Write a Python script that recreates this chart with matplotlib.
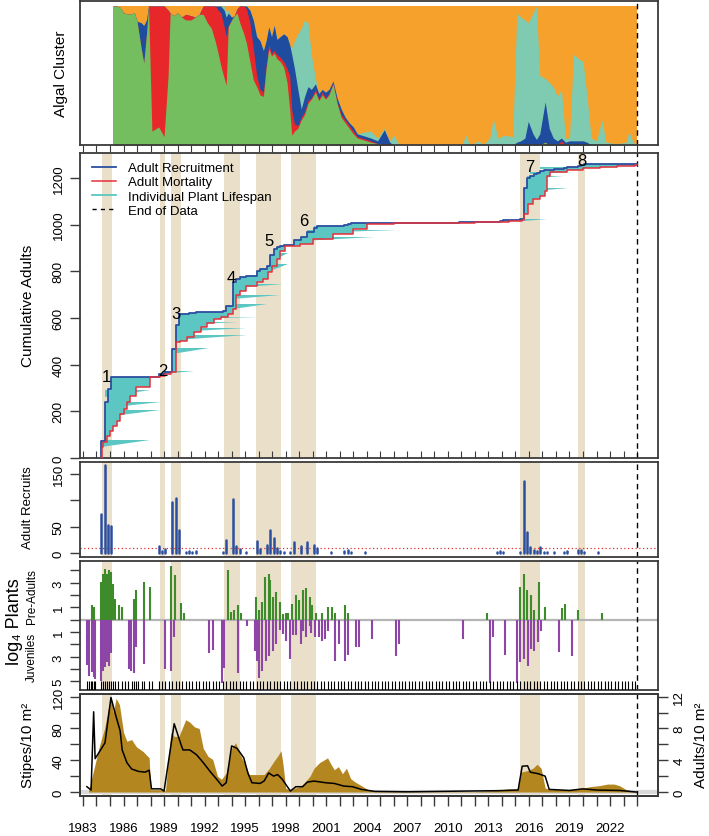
import numpy as np
import matplotlib

matplotlib.use('Agg')
import matplotlib.pyplot as plt
from matplotlib.lines import Line2D

plt.rcParams['font.family'] = ['Liberation Sans', 'DejaVu Sans']

# ---------------- data ----------------
# algal cluster composition, cumulative tops (green, +red, +blue, +teal); orange fills the rest
alg_dates = [1985.25, 1985.5, 1985.75, 1986.0, 1986.4, 1986.8, 1987.0, 1987.3, 1987.5, 1987.7,
             1987.85, 1988.1, 1988.6, 1989.0, 1989.3, 1989.45, 1989.7, 1990.0, 1990.3, 1990.6,
             1991.0, 1991.3, 1991.6, 1991.9, 1992.2, 1992.5, 1992.8, 1993.0, 1993.2, 1993.45,
             1993.6, 1993.75, 1994.0, 1994.2, 1994.4, 1994.6, 1994.9, 1995.1, 1995.35, 1995.6,
             1995.85, 1996.1, 1996.35, 1996.55, 1996.75, 1996.95, 1997.15, 1997.35, 1997.6, 1997.85,
             1998.1, 1998.3, 1998.45, 1998.65, 1998.9, 1999.15, 1999.4, 1999.65, 1999.9, 2000.2,
             2000.45, 2000.7, 2000.95, 2001.2, 2001.5, 2001.8, 2002.1, 2002.4, 2002.7, 2003.0,
             2003.3, 2003.65, 2004.3, 2004.8, 2005.3, 2005.7, 2006.0, 2006.4, 2011.0, 2011.35,
             2011.6, 2012.3, 2012.6, 2013.1, 2013.36, 2013.7, 2014.2, 2014.8, 2015.1, 2015.4,
             2015.7, 2015.95, 2016.3, 2016.55, 2016.8, 2017.2, 2017.5, 2017.8, 2018.1, 2018.4,
             2018.7, 2019.0, 2019.3, 2019.7, 2020.0, 2020.3, 2020.6, 2021.0, 2021.4, 2021.7,
             2022.5, 2023.2, 2023.4, 2023.7, 2024.0]
alg_green = [1.00, 1.00, 0.99, 0.95, 0.94, 0.95, 0.89, 0.70, 0.59, 0.80,
             1.00, 0.10, 0.13, 0.06, 0.50, 0.95, 0.93, 0.95, 0.92, 0.90,
             0.90, 0.92, 0.94, 0.94, 0.88, 0.84, 0.74, 0.66, 0.57, 0.48,
             0.43, 0.85, 0.90, 0.93, 0.95, 0.88, 0.80, 0.73, 0.60, 0.47,
             0.42, 0.36, 0.35, 0.55, 0.69, 0.64, 0.66, 0.62, 0.60, 0.56,
             0.45, 0.25, 0.07, 0.10, 0.12, 0.18, 0.22, 0.30, 0.33, 0.38,
             0.32, 0.36, 0.33, 0.36, 0.44, 0.30, 0.20, 0.16, 0.12, 0.08,
             0.05, 0.04, 0.02, 0.01, 0, 0, 0, 0, 0, 0,
             0, 0, 0, 0, 0, 0, 0, 0, 0, 0,
             0, 0, 0, 0, 0, 0.02, 0, 0, 0, 0,
             0, 0, 0, 0, 0, 0, 0, 0, 0, 0,
             0, 0, 0, 0, 0]
alg_red = [1.00, 1.00, 0.99, 0.95, 0.94, 0.95, 0.89, 0.70, 0.59, 0.80,
           1.00, 1.00, 1.00, 1.00, 0.97, 0.95, 0.93, 0.95, 0.92, 0.94,
           0.93, 0.92, 0.94, 1.00, 1.00, 1.00, 1.00, 0.97, 0.95, 0.85,
           0.78, 0.86, 0.90, 0.93, 0.98, 1.00, 1.00, 0.98, 0.88, 0.70,
           0.50, 0.40, 0.38, 0.57, 0.72, 0.66, 0.68, 0.65, 0.63, 0.60,
           0.55, 0.50, 0.25, 0.15, 0.14, 0.20, 0.24, 0.32, 0.34, 0.40,
           0.33, 0.38, 0.34, 0.37, 0.45, 0.31, 0.22, 0.18, 0.14, 0.10,
           0.06, 0.05, 0.03, 0.01, 0.01, 0, 0, 0, 0, 0,
           0, 0, 0, 0, 0, 0, 0, 0, 0, 0,
           0, 0, 0, 0, 0, 0.02, 0, 0, 0, 0.03,
           0, 0, 0, 0, 0, 0, 0, 0, 0, 0,
           0, 0, 0, 0, 0]
alg_blue = [1.00, 1.00, 0.99, 0.95, 0.94, 0.95, 0.89, 0.88, 0.86, 0.90,
            1.00, 1.00, 1.00, 1.00, 0.97, 0.95, 0.93, 0.95, 0.92, 0.94,
            0.93, 0.92, 0.94, 1.00, 1.00, 1.00, 1.00, 1.00, 1.00, 0.97,
            0.92, 0.95, 0.92, 0.93, 0.98, 1.00, 1.00, 1.00, 0.97, 0.90,
            0.78, 0.75, 0.68, 0.75, 0.85, 0.78, 0.86, 0.76, 0.78, 0.80,
            0.78, 0.72, 0.65, 0.55, 0.40, 0.26, 0.35, 0.42, 0.40, 0.44,
            0.37, 0.40, 0.38, 0.40, 0.46, 0.34, 0.26, 0.20, 0.16, 0.13,
            0.08, 0.07, 0.05, 0.03, 0.11, 0.02, 0, 0, 0, 0,
            0, 0, 0, 0, 0, 0, 0, 0, 0.02, 0.03,
            0.05, 0.17, 0.08, 0.04, 0.08, 0.31, 0.12, 0.05, 0.03, 0.05,
            0.02, 0.03, 0.03, 0.03, 0.03, 0.02, 0, 0, 0, 0,
            0, 0, 0, 0, 0]
alg_teal = [1.00, 1.00, 0.99, 0.95, 0.94, 0.95, 0.89, 0.88, 0.86, 0.90,
            1.00, 1.00, 1.00, 1.00, 0.97, 0.95, 0.93, 0.95, 0.92, 0.94,
            0.93, 0.92, 0.94, 1.00, 1.00, 1.00, 1.00, 1.00, 1.00, 1.00,
            0.96, 0.97, 0.92, 0.93, 0.98, 1.00, 1.00, 1.00, 0.97, 0.90,
            0.78, 0.75, 0.68, 0.75, 0.85, 0.78, 0.86, 0.76, 0.78, 0.80,
            0.78, 0.72, 0.70, 0.75, 0.80, 0.84, 0.90, 0.88, 0.65, 0.48,
            0.37, 0.40, 0.38, 0.40, 0.46, 0.34, 0.26, 0.20, 0.16, 0.13,
            0.08, 0.09, 0.10, 0.05, 0.12, 0.03, 0.07, 0, 0, 0.07,
            0, 0.03, 0, 0.05, 0.19, 0.05, 0.07, 0.06, 0.95, 0.92,
            0.90, 0.88, 0.95, 1.00, 0.50, 0.48, 0.45, 0.42, 0.35, 0.40,
            0.05, 0.05, 0.65, 0.62, 0.60, 0.35, 0.05, 0.03, 0.18, 0.02,
            0.01, 0.02, 0.10, 0.02, 0]

# adult recruits per survey
rec_dates = [1984.35, 1984.6, 1984.85, 1985.1, 1988.6, 1988.85, 1989.1, 1989.6, 1989.85, 1990.1,
             1990.6, 1990.85, 1991.1, 1991.35, 1992.1, 1993.35, 1993.6, 1994.1, 1994.35, 1994.6,
             1995.1, 1995.85, 1996.1, 1996.6, 1996.85, 1997.1, 1997.35, 1997.6, 1997.85, 1998.35,
             1998.6, 1999.1, 1999.6, 2000.1, 2000.35, 2001.35, 2002.35, 2002.6, 2002.85, 2003.85,
             2006.85, 2010.85, 2011.85, 2013.6, 2013.85, 2014.1, 2014.6, 2014.85, 2015.35, 2015.6,
             2015.85, 2016.1, 2016.35, 2016.6, 2016.85, 2017.1, 2017.35, 2017.85, 2018.1, 2018.6,
             2018.85, 2019.1, 2019.6, 2019.85, 2020.1, 2020.6, 2021.1, 2021.6]
rec_counts = [74, 167, 54, 51, 13, 3, 8, 97, 105, 44,
              2, 3, 2, 3, 1, 2, 24, 102, 13, 8,
              2, 22, 8, 16, 44, 28, 9, 4, 2, 2,
              21, 14, 20, 16, 9, 2, 4, 5, 2, 2,
              1, 1, 1, 2, 4, 2, 1, 1, 2, 136,
              40, 11, 6, 4, 12, 2, 2, 2, 1, 2,
              4, 1, 5, 5, 2, 1, 2, 1]

# cumulative adult mortality
mort_dates = [1984.32, 1984.4, 1984.5, 1984.75, 1985.0, 1985.24, 1985.54, 1985.74, 1986.03, 1986.23,
              1986.48, 1986.92, 1987.95, 1988.7, 1989.1, 1989.5, 1989.85, 1990.2, 1990.7, 1991.2,
              1991.7, 1992.2, 1992.7, 1993.2, 1993.7, 1994.1, 1994.3, 1994.6, 1995.1, 1995.85,
              1996.35, 1996.7, 1996.97, 1997.34, 1997.58, 1997.95, 1999.06, 2000.05, 2001.5, 2003.0,
              2004.0, 2006.0, 2012.0, 2014.5, 2015.47, 2015.65, 2015.96, 2016.33, 2016.83, 2017.2,
              2017.37, 2017.57, 2018.8, 2020.03, 2021.27, 2022.5, 2023.86]
mort_cum = [0, 45, 67, 96, 117, 138, 160, 189, 210, 239,
            267, 303, 346, 350, 362, 368, 496, 503, 517, 538,
            560, 578, 595, 603, 617, 640, 700, 717, 738, 753,
            767, 796, 824, 853, 889, 910, 917, 939, 960, 981,
            1003, 1008, 1011, 1015, 1020, 1046, 1089, 1110, 1124, 1146,
            1210, 1227, 1236, 1242, 1246, 1250, 1257]

# long-lived plants: recruit date, last date, plant index range
life_start = [1984.35, 1984.6, 1984.6, 1984.6, 1988.85, 1989.6, 1989.85, 1989.85, 1990.1, 1990.1,
              1994.1, 1994.1, 1994.1, 1996.85, 1997.1, 1999.1, 1999.6, 2000.1, 2015.6, 2015.6,
              2015.85, 2016.1, 2016.85]
life_end = [1987.96, 1988.7, 1988.75, 1987.96, 1991.2, 1992.3, 1995.15, 1995.1, 1994.5, 1996.0,
            1996.6, 1997.6, 1997.8, 1998.2, 1998.2, 2004.5, 2006.3, 2004.4, 2017.3, 2018.9,
            2018.55, 2019.4, 2023.2]
life_lo = [46, 176, 215, 262, 360, 445, 505, 540, 570, 595,
           640, 680, 730, 800, 850, 930, 965, 985, 1015, 1140,
           1195, 1215, 1240]
life_hi = [75, 204, 242, 292, 372, 470, 527, 558, 583, 605,
           660, 697, 747, 830, 880, 946, 977, 993, 1025, 1156,
           1210, 1224, 1246]

event_names = ['1', '2', '3', '4', '5', '6', '7', '8']
event_x = [1984.75, 1988.88, 1989.85, 1994.0, 1996.73, 1999.34, 2016.06, 2019.92]
event_y = [349, 375, 621, 775, 930, 1018, 1248, 1274]

# log4 pre-adult and juvenile counts
pre_dates = [1983.69, 1983.82, 1984.35, 1984.49, 1984.6, 1984.76, 1984.9, 1985.1, 1985.23, 1985.4,
             1985.63, 1985.9, 1986.77, 1986.9, 1987.5, 1987.97, 1989.48, 1989.78, 1990.25, 1990.49,
             1993.7, 1993.94, 1994.17, 1994.44, 1994.67, 1995.78, 1996.0, 1996.28, 1996.5, 1996.77,
             1996.87, 1997.05, 1997.28, 1997.55, 1997.78, 1998.0, 1998.18, 1998.45, 1998.79, 1999.02,
             1999.3, 1999.53, 1999.77, 1999.96, 2000.23, 2000.7, 2001.14, 2001.44, 2001.64, 2002.4,
             2002.6, 2012.93, 2015.37, 2015.64, 2015.87, 2016.14, 2016.38, 2016.71, 2017.21, 2018.45,
             2018.65, 2019.66, 2021.4]
pre_log4 = [1.17, 1.03, 3.1, 3.7, 4.1, 3.7, 4.0, 3.9, 2.9, 1.7,
            1.17, 1.03, 1.7, 2.4, 3.1, 2.65, 4.37, 3.6, 1.35, 0.54,
            4.0, 0.62, 0.76, 1.17, 0.54, 1.84, 0.81, 1.44, 3.47, 3.68,
            3.2, 1.84, 2.25, 1.44, 0.49, 0.54, 0.54, 1.3, 1.98, 1.57,
            2.38, 2.6, 1.84, 1.17, 0.54, 0.54, 1.03, 1.03, 0.54, 1.17,
            0.54, 0.54, 2.7, 3.7, 2.38, 1.98, 0.81, 3.05, 1.03, 0.98,
            1.25, 0.81, 0.54]
juv_dates = [1983.29, 1983.45, 1983.65, 1983.79, 1983.89, 1984.36, 1984.49, 1984.62, 1984.76, 1984.89,
             1985.1, 1986.43, 1986.57, 1986.8, 1986.94, 1987.5, 1989.04, 1989.51, 1989.75, 1992.32,
             1992.63, 1993.27, 1993.4, 1994.44, 1995.14, 1995.71, 1995.85, 1996.05, 1996.28, 1996.52,
             1996.78, 1997.06, 1997.29, 1997.55, 1997.78, 1998.02, 1998.29, 1998.55, 1998.79, 1999.1,
             1999.3, 1999.53, 1999.77, 1999.9, 2000.2, 2000.47, 2000.7, 2000.9, 2001.14, 2001.64,
             2001.91, 2002.4, 2002.61, 2003.18, 2003.41, 2004.42, 2006.16, 2006.4, 2011.15, 2013.13,
             2013.37, 2014.2, 2015.1, 2015.37, 2015.64, 2015.9, 2016.14, 2016.4, 2016.64, 2016.87,
             2018.2, 2019.2]
juv_log4 = [3.66, 4.53, 4.25, 4.66, 4.8, 4.93, 4.12, 3.8, 3.44, 3.71,
            2.71, 3.98, 4.17, 4.34, 2.22, 3.58, 3.98, 4.17, 1.41, 2.71,
            2.44, 5.15, 3.9, 4.34, 0.54, 2.49, 3.36, 4.72, 4.17, 3.36,
            2.9, 2.49, 1.95, 0.81, 1.14, 1.73, 3.17, 1.19, 1.19, 1.95,
            0.87, 1.41, 0.54, 1.08, 1.41, 1.41, 1.68, 1.54, 0.87, 3.3,
            1.95, 3.36, 2.82, 2.22, 2.22, 1.54, 2.9, 2.0, 1.54, 5.15,
            1.41, 2.82, 5.15, 3.44, 3.17, 3.71, 2.36, 2.55, 1.82, 0.87,
            2.63, 2.9]

survey_dates = [1983.3, 1983.45, 1983.6, 1983.7, 1983.8, 1983.9,
                1984.35, 1984.5, 1984.6, 1984.75, 1984.9,
                1985.1, 1985.25, 1985.4, 1985.6, 1985.9,
                1986.1, 1986.35, 1986.6, 1986.8, 1986.9,
                1987.1, 1987.35, 1987.5, 1987.85,
                1988.1, 1988.6, 1988.85,
                1989.1, 1989.35, 1989.6, 1989.85,
                1990.1, 1990.35, 1990.6, 1990.85, 1991.1, 1991.35, 1991.6, 1991.85,
                1992.1, 1992.35, 1992.6, 1992.85, 1993.1, 1993.35, 1993.6, 1993.85,
                1994.1, 1994.35, 1994.6, 1994.85, 1995.1, 1995.35, 1995.6, 1995.85,
                1996.1, 1996.35, 1996.6, 1996.85, 1997.1, 1997.35, 1997.6, 1997.85,
                1998.1, 1998.35, 1998.6, 1998.85, 1999.1, 1999.35, 1999.6, 1999.85,
                2000.1, 2000.35, 2000.6, 2000.85, 2001.1, 2001.35, 2001.6, 2001.85,
                2002.1, 2002.35, 2002.6, 2002.85, 2003.1, 2003.35, 2003.6, 2003.85,
                2004.1, 2004.35, 2004.6, 2004.85, 2005.1, 2005.35, 2005.6, 2005.85,
                2006.1, 2006.35, 2006.6, 2006.85, 2007.1, 2007.35, 2007.6, 2007.85,
                2008.1, 2008.35, 2008.6, 2008.85, 2009.1, 2009.35, 2009.6, 2009.85,
                2010.1, 2010.35, 2010.6, 2010.85, 2011.1, 2011.35, 2011.6, 2011.85,
                2012.1, 2012.35, 2012.6, 2012.85, 2013.1, 2013.35, 2013.6, 2013.85,
                2014.1, 2014.35, 2014.6, 2014.85, 2015.1, 2015.35, 2015.6, 2015.85,
                2016.1, 2016.35, 2016.6, 2016.85, 2017.1, 2017.35, 2017.6, 2017.85,
                2018.1, 2018.35, 2018.6, 2018.85, 2019.1, 2019.35, 2019.6, 2019.85,
                2020.1, 2020.35, 2020.6, 2020.85, 2021.1, 2021.35, 2021.6, 2021.85,
                2022.1, 2022.35, 2022.6, 2022.85, 2023.1, 2023.35, 2023.6, 2023.85]

# kelp stipes and adults per 10 m2
stipe_dates = [1983.4, 1984.25, 1984.6, 1984.9, 1985.1, 1985.25, 1985.45, 1985.7, 1986.0, 1986.25,
               1986.6, 1986.95, 1987.45, 1987.9, 1988.0, 1988.9, 1989.1, 1989.5, 1989.75, 1990.1,
               1990.6, 1990.9, 1991.25, 1991.6, 1991.9, 1992.25, 1992.6, 1992.95, 1993.25, 1993.6,
               1994.0, 1994.3, 1994.6, 1995.0, 1995.3, 1995.6, 1996.0, 1996.4, 1996.8, 1997.1,
               1997.4, 1997.65, 1997.8, 1998.0, 1998.35, 1998.7, 1999.1, 1999.4, 1999.8, 2000.1,
               2000.5, 2000.8, 2001.1, 2001.35, 2001.6, 2001.9, 2002.2, 2002.5, 2002.8, 2003.1,
               2003.6, 2004.1, 2004.6, 2006.0, 2007.0, 2012.0, 2013.5, 2014.5, 2015.2, 2015.4,
               2015.9, 2016.3, 2016.6, 2016.9, 2017.2, 2017.6, 2019.0, 2020.0, 2020.6, 2021.2,
               2021.8, 2022.3, 2022.7, 2023.2, 2023.9]
stipe_vals = [0, 60, 80, 107, 117, 100, 118, 110, 75, 64,
              66, 57, 51, 43, 3, 3, 1, 75, 70, 70,
              91, 88, 82, 80, 55, 45, 41, 20, 16, 24,
              55, 62, 48, 35, 22, 22, 22, 22, 30, 38,
              45, 52, 35, 5, 2, 5, 7, 12, 20, 30,
              37, 40, 43, 35, 28, 32, 23, 30, 17, 13,
              8, 3, 1, 1, 0.5, 0.5, 2, 4, 4, 25,
              27, 30, 35, 30, 5, 3, 3, 5, 7, 8,
              10, 10, 8, 3, 0]
adult_dates = [1983.29, 1983.6, 1983.79, 1983.9, 1984.63, 1985.07, 1985.4, 1985.75, 1985.9, 1986.25,
               1986.6, 1987.1, 1987.6, 1987.9, 1988.07, 1988.75, 1989.0, 1989.75, 1990.25, 1990.4,
               1990.9, 1991.4, 1991.9, 1992.4, 1992.9, 1993.3, 1993.6, 1994.0, 1994.4, 1994.9,
               1995.2, 1995.5, 1996.1, 1996.4, 1996.75, 1997.1, 1997.4, 1997.75, 1998.35, 1998.75,
               1999.25, 1999.6, 2000.1, 2000.95, 2001.6, 2002.3, 2002.95, 2003.6, 2004.6, 2007.0,
               2013.7, 2015.2, 2015.5, 2015.9, 2016.1, 2016.7, 2017.2, 2017.5, 2019.0, 2020.0,
               2021.0, 2022.7, 2023.95]
adult_vals = [0.67, 0.25, 10.1, 4.2, 6.2, 11.9, 9.8, 7.7, 5.3, 3.7,
              2.9, 2.6, 2.5, 2.75, 0.4, 0.4, 0.12, 8.6, 6.0, 5.3,
              5.3, 4.7, 3.7, 2.6, 1.6, 0.75, 1.17, 5.8, 5.5, 4.3,
              2.4, 1.17, 1.08, 1.38, 2.4, 2.0, 2.2, 1.6, 0.12, 0.67,
              0.67, 1.25, 1.38, 1.17, 1.08, 0.75, 0.67, 0.33, 0.08, 0.03,
              0.17, 0.25, 3.25, 3.3, 2.5, 2.3, 2.0, 0.33, 0.2, 0.4,
              0.25, 0.2, 0.0]

# warm-water periods (shaded)
band_start = [1984.38, 1988.72, 1989.5, 1993.42, 1995.77, 1998.43, 2015.36, 2019.66]
band_end = [1985.15, 1989.05, 1990.24, 1994.62, 1997.69, 2000.27, 2016.82, 2020.16]
end_of_data = 2024.0

# ---------------- figure ----------------
W, H = 709, 837
fig = plt.figure(figsize=(W / 100, H / 100), dpi=100)

c_green, c_red, c_blue, c_teal, c_orange = '#74BE5F', '#E8272A', '#1F4C9F', '#7ECBB2', '#F5A12C'
c_line_blue, c_line_red, c_life = '#2B4FA0', '#E5303A', '#5CC6C2'
c_band = '#EADFC8'
c_spine = '#3A3A3A'
XLIM = (1982.78, 2025.55)


def add_panel(top, bottom):
    ax = fig.add_axes([80 / W, 1 - bottom / H, 578 / W, (bottom - top) / H])
    ax.set_xlim(*XLIM)
    for s in ax.spines.values():
        s.set_color(c_spine)
        s.set_linewidth(1.3)
    ax.tick_params(axis='y', length=7, width=1, colors=c_spine, labelcolor='black',
                   labelsize=9.5, pad=4, labelrotation=90)
    return ax


def fix_ylabels(ax):
    for lab in ax.get_yticklabels():
        lab.set_va('center')


years = np.arange(1983, 2025)

ax1 = add_panel(2, 146)
ax2 = add_panel(154, 459)
ax3 = add_panel(463, 558)
ax4 = add_panel(562, 691)
ax5 = add_panel(695, 797)

# ---- panel 1: algal cluster ----
d = np.array(alg_dates)
ax1.fill_between(d, 0, 1, color=c_orange, lw=0)
ax1.fill_between(d, 0, alg_teal, color=c_teal, lw=0)
ax1.fill_between(d, 0, alg_blue, color=c_blue, lw=0)
ax1.fill_between(d, 0, alg_red, color=c_red, lw=0)
ax1.fill_between(d, 0, alg_green, color=c_green, lw=0)
ax1.axvline(end_of_data, color='black', ls=(0, (4, 3)), lw=1)
ax1.set_ylim(0, 1.036)
ax1.set_yticks([])
ax1.set_xticks(years)
ax1.tick_params(axis='x', direction='out', length=5, labelbottom=False, colors=c_spine)

# ---- panel 2: cumulative adults ----
for s0, s1 in zip(band_start, band_end):
    for ax in (ax2, ax3, ax4, ax5):
        ax.axvspan(s0, s1, color=c_band, lw=0, zorder=0)

cum_rec = np.cumsum(rec_counts)
blue_x = np.r_[1984.3, rec_dates, end_of_data]
blue_y = np.r_[0, cum_rec, cum_rec[-1]]
red_x = np.r_[mort_dates, end_of_data]
red_y = np.r_[mort_cum, mort_cum[-1]]
grid = np.union1d(blue_x, red_x)


def step_at(xs, ys, g):
    idx = np.searchsorted(xs, g, side='right') - 1
    return np.where(idx >= 0, ys[np.clip(idx, 0, None)], 0)


ax2.fill_between(grid, step_at(red_x, red_y, grid), step_at(blue_x, blue_y, grid),
                 step='post', color=c_life, lw=0, zorder=1)
for s, e, lo, hi in zip(life_start, life_end, life_lo, life_hi):
    ax2.fill([s, s, e], [lo, hi, hi], color=c_life, lw=0, zorder=1)
ax2.step(blue_x, blue_y, where='post', color=c_line_blue, lw=1.3, zorder=3)
ax2.step(red_x, red_y, where='post', color=c_line_red, lw=1.1, zorder=4)
ax2.axvline(end_of_data, color='black', ls=(0, (4, 3)), lw=1)
for name, x, y in zip(event_names, event_x, event_y):
    ax2.text(x, y, name, fontsize=12, ha='center', va='center', zorder=5)
ax2.set_ylim(0, 1307)
ax2.set_yticks(np.arange(0, 1201, 200))
fix_ylabels(ax2)
ax2.set_xticks(years)
ax2.tick_params(axis='x', direction='in', length=5, labelbottom=False, colors=c_spine)
handles = [Line2D([], [], color=c_line_blue, lw=1.3),
           Line2D([], [], color=c_line_red, lw=1.1),
           Line2D([], [], color=c_life, lw=1.3),
           Line2D([], [], color='black', lw=1, ls=(0, (3, 3)))]
ax2.legend(handles, ['Adult Recruitment', 'Adult Mortality', 'Individual Plant Lifespan', 'End of Data'],
           loc='upper left', bbox_to_anchor=(12 / 578, 1 - 9 / 305), frameon=False, fontsize=9.5,
           borderaxespad=0, borderpad=0, handlelength=1.8, handletextpad=0.9, labelspacing=0.15)

# ---- panel 3: adult recruits ----
bars = ax3.vlines(rec_dates, 0, rec_counts, color=c_line_blue, lw=1.8, zorder=2)
bars.set_capstyle('round')
ax3.axhline(10, color='#E03030', ls=(0, (1, 2)), lw=0.9, zorder=1)
ax3.axvline(end_of_data, color='black', ls=(0, (4, 3)), lw=1)
ax3.set_ylim(-7.5, 172.5)
ax3.set_yticks([0, 50, 100, 150])
ax3.set_yticklabels(['0', '50', '', '150'])
fix_ylabels(ax3)
ax3.tick_params(axis='x', bottom=False, labelbottom=False)

# ---- panel 4: log4 plants ----
ax4.axhline(0, color='#B5B5B5', lw=1.6, zorder=1)
g = ax4.vlines(pre_dates, 0, pre_log4, color='#3E8B2C', lw=1.5, zorder=2)
p = ax4.vlines(juv_dates, 0, -np.array(juv_log4), color='#8D45A8', lw=1.5, zorder=2)
ax4.vlines(survey_dates, -5.69, -4.95, color='black', lw=0.8, zorder=3)
ax4.axvline(end_of_data, color='black', ls=(0, (4, 3)), lw=1)
ax4.set_ylim(-5.69, 4.77)
ax4.set_yticks([4, 3, 2, 1, 0, -1, -2, -3, -4, -5])
ax4.set_yticklabels(['', '3', '', '1', '', '1', '', '3', '', '5'])
fix_ylabels(ax4)
ax4.tick_params(axis='x', bottom=False, labelbottom=False)

# ---- panel 5: stipes & adults ----
ax5.axhline(0, color='#DADADA', lw=3, zorder=1)
ax5.fill_between(stipe_dates, 0, stipe_vals, color='#B3861F', lw=0, zorder=2)
ax5.axvline(end_of_data, color='black', ls=(0, (4, 3)), lw=1, zorder=3)
ax5.set_ylim(-5, 123.4)
ax5.set_yticks(np.arange(0, 121, 20))
ax5.set_yticklabels(['0', '', '40', '', '80', '', '120'])
fix_ylabels(ax5)
ax5.set_xticks(years)
ax5.set_xticklabels([str(y) if (y - 1983) % 3 == 0 else '' for y in years])
ax5.tick_params(axis='x', direction='out', length=7, width=1, colors=c_spine, labelcolor='black',
                labelsize=9.5, pad=12)
ax5r = ax5.twinx()
ax5r.set_xlim(*XLIM)
ax5r.plot(adult_dates, adult_vals, color='black', lw=1.1, zorder=4)
ax5r.set_ylim(-0.5, 12.34)
ax5r.set_yticks(np.arange(0, 13, 2))
ax5r.set_yticklabels(['0', '', '4', '', '8', '', '12'])
ax5r.tick_params(axis='y', length=7, width=1, colors=c_spine, labelcolor='black',
                 labelsize=9.5, pad=4, labelrotation=90)
for lab in ax5r.get_yticklabels():
    lab.set_va('center')
for s in ax5r.spines.values():
    s.set_color(c_spine)
    s.set_linewidth(1.3)

# ---- axis titles ----
def ylabel(x, y, text, size):
    fig.text(x / W, 1 - y / H, text, rotation=90, ha='center', va='center', fontsize=size)


ylabel(61, 74, 'Algal Cluster', 11)
ylabel(28, 306, 'Cumulative Adults', 11)
ylabel(28, 508, 'Adult Recruits', 9.5)
ylabel(15, 622, 'log₄ Plants', 13)
ylabel(32, 597, 'Pre-Adults', 8.5)
ylabel(32, 657, 'Juveniles', 8.5)
ylabel(28, 745, 'Stipes/10 m²', 11)
ylabel(701, 745, 'Adults/10 m²', 11)

fig.savefig('out.png', dpi=100)
